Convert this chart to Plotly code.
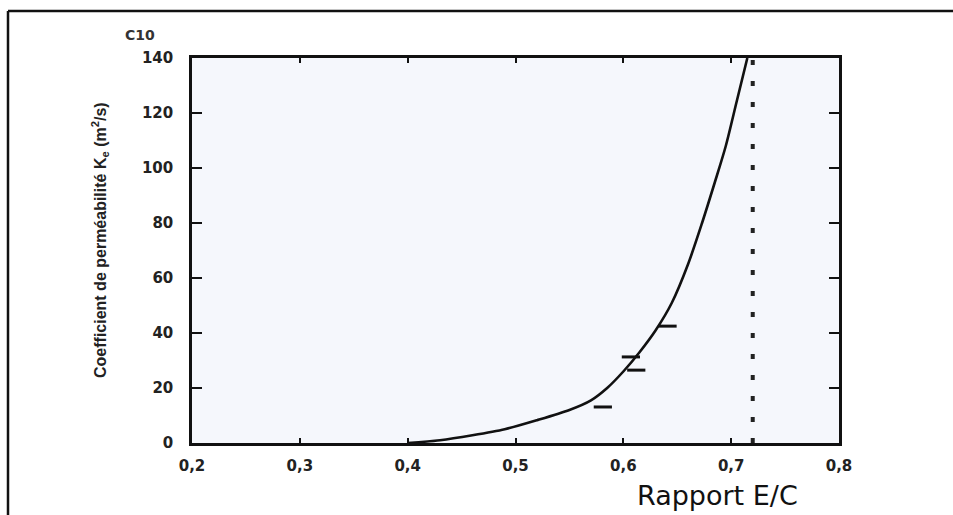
import plotly.graph_objects as go

# Curve: permeability coefficient vs W/C ratio
ratio_curve = [0.40, 0.43, 0.46, 0.49, 0.52, 0.55, 0.57, 0.585, 0.60, 0.615, 0.63, 0.645, 0.66, 0.673, 0.685, 0.695, 0.705, 0.715]
coef_curve = [0.0, 1.0, 2.8, 5.0, 8.3, 12.0, 15.5, 20.0, 26.0, 33.0, 41.0, 51.0, 65.0, 80.0, 95.0, 108.0, 124.0, 140.0]

# Measured points (short dash markers)
ratio_pts = [0.581, 0.607, 0.612, 0.641]
coef_pts = [13.1, 31.3, 26.5, 42.5]

# Vertical limit line
limit_ratio = [0.72, 0.72]
limit_coef = [0, 140]

x_ticks = [0.2, 0.3, 0.4, 0.5, 0.6, 0.7, 0.8]
y_ticks = [0, 20, 40, 60, 80, 100, 120, 140]

L, R, T, B = 192, 114, 58, 72
W, H = 953, 515
pw = W - L - R
ph = H - T - B

def px(xp):
    return (xp - L) / pw

def py(yp):
    return (H - B - yp) / ph

fig = go.Figure()
fig.add_trace(go.Scatter(x=ratio_curve, y=coef_curve, mode="lines",
                         line=dict(color="#111111", width=2.6, shape="spline", smoothing=0.8),
                         showlegend=False))
fig.add_trace(go.Scatter(x=ratio_pts, y=coef_pts, mode="markers",
                         marker=dict(symbol="line-ew", size=13,
                                     line=dict(color="#111111", width=3)),
                         showlegend=False))
fig.add_trace(go.Scatter(x=limit_ratio, y=limit_coef, mode="lines",
                         line=dict(color="#222222", width=4, dash="5px,16px"),
                         showlegend=False))

tick_font = dict(family="DejaVu Sans, sans-serif", size=15, color="#222222", weight="bold")

fig.update_xaxes(range=[0.2, 0.8], tickvals=x_ticks, tickformat=".1f",
                 showline=True, linecolor="#111111", linewidth=2.5, mirror="ticks",
                 ticks="inside", ticklen=5, tickwidth=1.5, tickcolor="#111111",
                 showgrid=False, zeroline=False, tickfont=tick_font,
                 ticklabelstandoff=7)
fig.update_yaxes(range=[0, 140], tickvals=y_ticks,
                 showline=True, linecolor="#111111", linewidth=2.5, mirror="ticks",
                 ticks="inside", ticklen=10, tickwidth=1.5, tickcolor="#111111",
                 showgrid=False, zeroline=False, tickfont=tick_font,
                 ticklabelstandoff=13)

annotations = [
    dict(text="Coefficient de perméabilité K<sub>e</sub> (m<sup>2</sup>/s)",
         x=px(100), y=py(240), xref="paper", yref="paper", showarrow=False,
         xanchor="center", yanchor="middle",
         textangle=-90, font=dict(family="Liberation Sans, Arial, sans-serif", size=16,
                                  color="#222222", weight="bold")),
    dict(text="C10", x=px(140), y=py(35), xref="paper", yref="paper", showarrow=False,
         xanchor="center", yanchor="middle",
         font=dict(family="DejaVu Sans, sans-serif", size=14,
                   color="#333333", weight="bold")),
    dict(text="Rapport E/C", x=px(717), y=py(495), xref="paper", yref="paper",
         showarrow=False, xanchor="center", yanchor="middle",
         font=dict(family="DejaVu Sans, sans-serif", size=27, color="#111111")),
]

shapes = [
    dict(type="line", xref="paper", yref="paper", x0=px(8), x1=px(960), y0=py(11), y1=py(11),
         line=dict(color="#111111", width=2.5)),
    dict(type="line", xref="paper", yref="paper", x0=px(8), x1=px(8), y0=py(11), y1=py(520),
         line=dict(color="#111111", width=2.5)),
]

fig.update_layout(
    width=W, height=H,
    margin=dict(l=L, r=R, t=T, b=B),
    paper_bgcolor="white",
    plot_bgcolor="#f5f7fc",
    separators=", ",
    annotations=annotations,
    shapes=shapes,
)

fig.write_html("out.html", config={"displayModeBar": False})

# remove default browser body margin so the figure sits at the page origin
with open("out.html", "r", encoding="utf-8") as f:
    html = f.read()
html = html.replace("<head>", "<head><style>html,body{margin:0;padding:0;overflow:hidden;}</style>", 1)
with open("out.html", "w", encoding="utf-8") as f:
    f.write(html)
